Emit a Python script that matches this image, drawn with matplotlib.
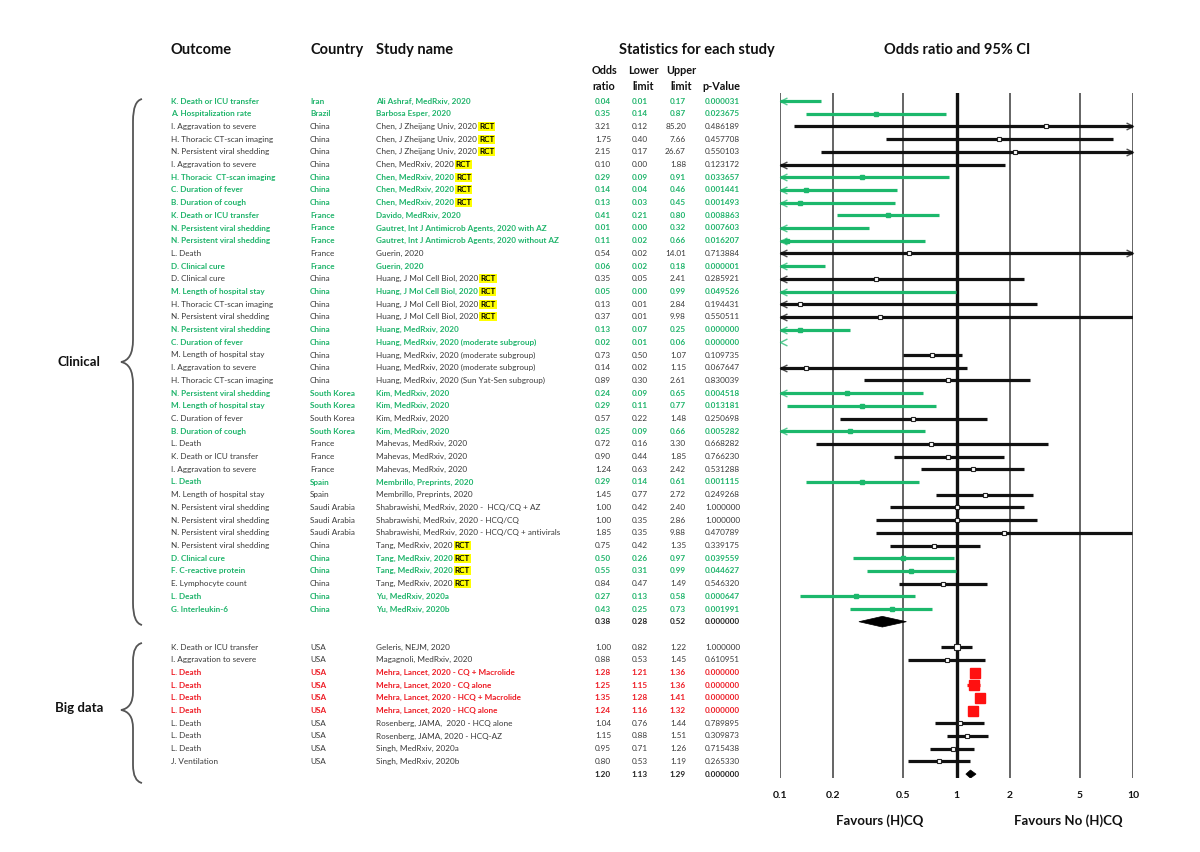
import matplotlib.pyplot as plt
import numpy as np
from matplotlib import transforms
from matplotlib.path import Path
from matplotlib.patches import PathPatch, Polygon

plt.rcParams['font.family'] = ['Lato', 'DejaVu Sans']

# ---- clinical studies ----
clin_outcome = ['K. Death or ICU transfer', 'A. Hospitalization rate', 'I. Aggravation to severe',
                'H. Thoracic CT-scan imaging', 'N. Persistent viral shedding', 'I. Aggravation to severe',
                'H. Thoracic  CT-scan imaging', 'C. Duration of fever', 'B. Duration of cough',
                'K. Death or ICU transfer', 'N. Persistent viral shedding', 'N. Persistent viral shedding',
                'L. Death', 'D. Clinical cure', 'D. Clinical cure', 'M. Length of hospital stay',
                'H. Thoracic CT-scan imaging', 'N. Persistent viral shedding', 'N. Persistent viral shedding',
                'C. Duration of fever', 'M. Length of hospital stay', 'I. Aggravation to severe',
                'H. Thoracic CT-scan imaging', 'N. Persistent viral shedding', 'M. Length of hospital stay',
                'C. Duration of fever', 'B. Duration of cough', 'L. Death', 'K. Death or ICU transfer',
                'I. Aggravation to severe', 'L. Death', 'M. Length of hospital stay',
                'N. Persistent viral shedding', 'N. Persistent viral shedding', 'N. Persistent viral shedding',
                'N. Persistent viral shedding', 'D. Clinical cure', 'F. C-reactive protein',
                'E. Lymphocyte count', 'L. Death', 'G. Interleukin-6']
clin_country = ['Iran', 'Brazil'] + ['China'] * 7 + ['France'] * 5 + ['China'] * 9 + \
               ['South Korea'] * 4 + ['France'] * 3 + ['Spain'] * 2 + ['Saudi Arabia'] * 3 + ['China'] * 6
clin_study = ['Ali Ashraf, MedRxiv, 2020', 'Barbosa Esper, 2020'] + \
             ['Chen, J Zheijang Univ, 2020'] * 3 + ['Chen, MedRxiv, 2020'] * 4 + \
             ['Davido, MedRxiv, 2020', 'Gautret, Int J Antimicrob Agents, 2020 with AZ',
              'Gautret, Int J Antimicrob Agents, 2020 without AZ', 'Guerin, 2020', 'Guerin, 2020'] + \
             ['Huang, J Mol Cell Biol, 2020'] * 4 + ['Huang, MedRxiv, 2020'] + \
             ['Huang, MedRxiv, 2020 (moderate subgroup)'] * 3 + \
             ['Huang, MedRxiv, 2020 (Sun Yat-Sen subgroup)'] + ['Kim, MedRxiv, 2020'] * 4 + \
             ['Mahevas, MedRxiv, 2020'] * 3 + ['Membrillo, Preprints, 2020'] * 2 + \
             ['Shabrawishi, MedRxiv, 2020 -  HCQ/CQ + AZ', 'Shabrawishi, MedRxiv, 2020 - HCQ/CQ',
              'Shabrawishi, MedRxiv, 2020 - HCQ/CQ + antivirals'] + ['Tang, MedRxiv, 2020'] * 4 + \
             ['Yu, MedRxiv, 2020a', 'Yu, MedRxiv, 2020b']
clin_rct = [0, 0, 1, 1, 1, 1, 1, 1, 1, 0, 0, 0, 0, 0, 1, 1, 1, 1, 0, 0, 0, 0, 0, 0, 0, 0, 0,
            0, 0, 0, 0, 0, 0, 0, 0, 1, 1, 1, 1, 0, 0]
clin_or = [0.04, 0.35, 3.21, 1.75, 2.15, 0.10, 0.29, 0.14, 0.13, 0.41, 0.01, 0.11, 0.54, 0.06,
           0.35, 0.05, 0.13, 0.37, 0.13, 0.02, 0.73, 0.14, 0.89, 0.24, 0.29, 0.57, 0.25, 0.72,
           0.90, 1.24, 0.29, 1.45, 1.00, 1.00, 1.85, 0.75, 0.50, 0.55, 0.84, 0.27, 0.43]
clin_lo = [0.01, 0.14, 0.12, 0.40, 0.17, 0.00, 0.09, 0.04, 0.03, 0.21, 0.00, 0.02, 0.02, 0.02,
           0.05, 0.00, 0.01, 0.01, 0.07, 0.01, 0.50, 0.02, 0.30, 0.09, 0.11, 0.22, 0.09, 0.16,
           0.44, 0.63, 0.14, 0.77, 0.42, 0.35, 0.35, 0.42, 0.26, 0.31, 0.47, 0.13, 0.25]
clin_hi = [0.17, 0.87, 85.20, 7.66, 26.67, 1.88, 0.91, 0.46, 0.45, 0.80, 0.32, 0.66, 14.01, 0.18,
           2.41, 0.99, 2.84, 9.98, 0.25, 0.06, 1.07, 1.15, 2.61, 0.65, 0.77, 1.48, 0.66, 3.30,
           1.85, 2.42, 0.61, 2.72, 2.40, 2.86, 9.88, 1.35, 0.97, 0.99, 1.49, 0.58, 0.73]
clin_p = [0.000031, 0.023675, 0.486189, 0.457708, 0.550103, 0.123172, 0.033657, 0.001441, 0.001493,
          0.008863, 0.007603, 0.016207, 0.713884, 0.000001, 0.285921, 0.049526, 0.194431, 0.550511,
          0.000000, 0.000000, 0.109735, 0.067647, 0.830039, 0.004518, 0.013181, 0.250698, 0.005282,
          0.668282, 0.766230, 0.531288, 0.001115, 0.249268, 1.000000, 1.000000, 0.470789, 0.339175,
          0.039559, 0.044627, 0.546320, 0.000647, 0.001991]
# g = significant in favour of (H)CQ, k = not significant
clin_col = ['g', 'g', 'k', 'k', 'k', 'k', 'g', 'g', 'g', 'g', 'g', 'g', 'k', 'g', 'k', 'g', 'k', 'k',
            'g', 'g', 'k', 'k', 'k', 'g', 'g', 'k', 'g', 'k', 'k', 'k', 'g', 'k', 'k', 'k', 'k', 'k',
            'g', 'g', 'k', 'g', 'g']
clin_total = [0.38, 0.28, 0.52, 0.000000]

# ---- big data studies ----
big_outcome = ['K. Death or ICU transfer', 'I. Aggravation to severe', 'L. Death', 'L. Death',
               'L. Death', 'L. Death', 'L. Death', 'L. Death', 'L. Death', 'J. Ventilation']
big_country = ['USA'] * 10
big_study = ['Geleris, NEJM, 2020', 'Magagnoli, MedRxiv, 2020', 'Mehra, Lancet, 2020 - CQ + Macrolide',
             'Mehra, Lancet, 2020 - CQ alone', 'Mehra, Lancet, 2020 - HCQ + Macrolide',
             'Mehra, Lancet, 2020 - HCQ alone', 'Rosenberg, JAMA,  2020 - HCQ alone',
             'Rosenberg, JAMA, 2020 - HCQ-AZ', 'Singh, MedRxiv, 2020a', 'Singh, MedRxiv, 2020b']
big_or = [1.00, 0.88, 1.28, 1.25, 1.35, 1.24, 1.04, 1.15, 0.95, 0.80]
big_lo = [0.82, 0.53, 1.21, 1.15, 1.28, 1.16, 0.76, 0.88, 0.71, 0.53]
big_hi = [1.22, 1.45, 1.36, 1.36, 1.41, 1.32, 1.44, 1.51, 1.26, 1.19]
big_p = [1.000000, 0.610951, 0.000000, 0.000000, 0.000000, 0.000000, 0.789895, 0.309873,
         0.715438, 0.265330]
# r = significant against (H)CQ
big_col = ['k', 'k', 'r', 'r', 'r', 'r', 'k', 'k', 'k', 'k']
big_total = [1.20, 1.13, 1.29, 0.000000]

ticks = [0.1, 0.2, 0.5, 1, 2, 5, 10]
tick_labels = ['0.1', '0.2', '0.5', '1', '2', '5', '10']

W, H = 1200, 852
line_col = {'g': '#1cb86c', 'k': '#111111', 'r': '#ff1010'}
txt_col = {'g': '#1fb46b', 'k': '#3a3a3a', 'r': '#ee1c25'}
FS = 5.9

fig = plt.figure(figsize=(12, 8.52), dpi=100)
top_px, bot_px, y0_px, dy = 93, 778, 101, 12.7
ax = fig.add_axes([780 / W, 1 - bot_px / H, (1133 - 780) / W, (bot_px - top_px) / H])
ax.set_xscale('log')
ax.set_xlim(0.1, 10)
ax.set_ylim((bot_px - y0_px) / dy, (top_px - y0_px) / dy)
ax.axis('off')

for t in ticks:
    ax.axvline(t, color='#111111' if t == 1 else '#4a4a4a', lw=2.4 if t == 1 else 1.2, zorder=1)

row_tr = transforms.blended_transform_factory(fig.transFigure, ax.transData)
tick_tr = transforms.blended_transform_factory(ax.transData, fig.transFigure)

left_head = [(2, 1), (0, 0), (2, -1)]
right_head = [(-2, 1), (0, 0), (-2, -1)]


def draw_row(y, outcome, country, study, rct, o, lo, hi, p, c, ms=None):
    tc = txt_col[c]
    fw = 'normal' if c == 'k' else 'bold'
    kw = dict(transform=row_tr, fontsize=FS, color=tc, fontweight=fw, va='center')
    fig.text(171 / W, y, outcome, **kw)
    fig.text(310 / W, y, country, **kw)
    st = fig.text(376 / W, y, study, **kw)
    if rct:
        ax.annotate('RCT', xy=(1, 0.5), xycoords=st, xytext=(1.5, 0), textcoords='offset points',
                    va='center', ha='left', fontsize=FS, fontweight='bold', color='black',
                    bbox=dict(boxstyle='square,pad=0.12', fc='#ffff00', ec='none'),
                    annotation_clip=False)
    for xp, v in zip([611, 648, 686], [o, lo, hi]):
        fig.text(xp / W, y, '%.2f' % v, ha='right', **kw)
    fig.text(740 / W, y, '%.6f' % p, ha='right', **kw)

    lc = line_col[c]
    ax.plot([max(lo, 0.1), min(hi, 10)], [y, y], color=lc, lw=2.3, solid_capstyle='butt', zorder=2)
    if lo < 0.1:
        ax.plot(0.1, y, marker=left_head, ms=10, mfc='none', mec=lc, mew=1.0, alpha=0.75,
                clip_on=False, zorder=3)
    if hi > 10:
        ax.plot(10, y, marker=right_head, ms=10, mfc='none', mec=lc, mew=1.0, alpha=0.75,
                clip_on=False, zorder=3)
    if 0.1 < o < 10:
        if c == 'k':
            ax.plot(o, y, 's', ms=ms or 3.2, mfc='white', mec='#222222', mew=0.8, zorder=4)
        else:
            ax.plot(o, y, 's', ms=ms or 3.2, color=lc, zorder=4)


def draw_total(y, vals, h):
    o, lo, hi, p = vals
    kw = dict(transform=row_tr, fontsize=FS, color='#222222', fontweight='bold', va='center')
    for xp, v in zip([611, 648, 686], [o, lo, hi]):
        fig.text(xp / W, y, '%.2f' % v, ha='right', **kw)
    fig.text(740 / W, y, '%.6f' % p, ha='right', **kw)
    ax.add_patch(Polygon([(lo, y), (o, y - h), (hi, y), (o, y + h)], closed=True,
                         fc='black', ec='black', lw=0.5, zorder=4))


for i in range(len(clin_or)):
    draw_row(i, clin_outcome[i], clin_country[i], clin_study[i], clin_rct[i], clin_or[i],
             clin_lo[i], clin_hi[i], clin_p[i], clin_col[i])
n1 = len(clin_or)
draw_total(n1, clin_total, 0.42)

big_ms = {0: 5, 2: 6.5, 3: 6.5, 4: 7.5, 5: 6.5}
start = n1 + 2
for j in range(len(big_or)):
    draw_row(start + j, big_outcome[j], big_country[j], big_study[j], 0, big_or[j],
             big_lo[j], big_hi[j], big_p[j], big_col[j], big_ms.get(j))
draw_total(start + len(big_or), big_total, 0.32)

# headers
hk = dict(fontweight='bold', color='#111111', va='center')
fig.text(171 / W, 1 - 50 / H, 'Outcome', fontsize=10.5, **hk)
fig.text(310 / W, 1 - 50 / H, 'Country', fontsize=10.5, **hk)
fig.text(376 / W, 1 - 50 / H, 'Study name', fontsize=10.5, **hk)
fig.text(697 / W, 1 - 50 / H, 'Statistics for each study', ha='center', fontsize=10.5, **hk)
fig.text(957 / W, 1 - 50 / H, 'Odds ratio and 95% CI', ha='center', fontsize=10.5, **hk)

for xp, l1, l2 in [(604, 'Odds', 'ratio'), (643, 'Lower', 'limit'), (681, 'Upper', 'limit'),
                   (721, '', 'p-Value')]:
    fig.text(xp / W, 1 - 71 / H, l1, ha='center', fontsize=7.8, **hk)
    fig.text(xp / W, 1 - 87 / H, l2, ha='center', fontsize=7.8, **hk)

for t, lab in zip(ticks, tick_labels):
    fig.text(t, 1 - 796 / H, lab, transform=tick_tr, ha='center', fontsize=7.5, **hk)
fig.text(880 / W, 1 - 821 / H, 'Favours (H)CQ', ha='center', fontsize=9.5, **hk)
fig.text(1068 / W, 1 - 821 / H, 'Favours No (H)CQ', ha='center', fontsize=9.5, **hk)


# curly braces on the left
def brace(x_end, x_v, x_tip, y_top, y_mid, y_bot, r=22):
    pts = [(x_end, y_top), (x_v, y_top + 2), (x_v, y_top + r), (x_v, y_mid - r),
           (x_v, y_mid - 2), (x_tip, y_mid), (x_v, y_mid + 2), (x_v, y_mid + r),
           (x_v, y_bot - r), (x_v, y_bot - 2), (x_end, y_bot)]
    codes = [Path.MOVETO, Path.CURVE3, Path.CURVE3, Path.LINETO, Path.CURVE3, Path.CURVE3,
             Path.CURVE3, Path.CURVE3, Path.LINETO, Path.CURVE3, Path.CURVE3]
    pts = [(x / W, 1 - y / H) for x, y in pts]
    fig.add_artist(PathPatch(Path(pts, codes), fill=False, ec='#555555', lw=1.3,
                             transform=fig.transFigure))


brace(142, 133, 121, 99, 362, 625)
brace(142, 133, 121, 643, 710, 783, r=18)
fig.text(57 / W, 1 - 362 / H, 'Clinical', fontsize=9.5, **hk)
fig.text(55 / W, 1 - 708 / H, 'Big data', fontsize=9.5, **hk)

plt.savefig('out.png', dpi=100, facecolor='white')
